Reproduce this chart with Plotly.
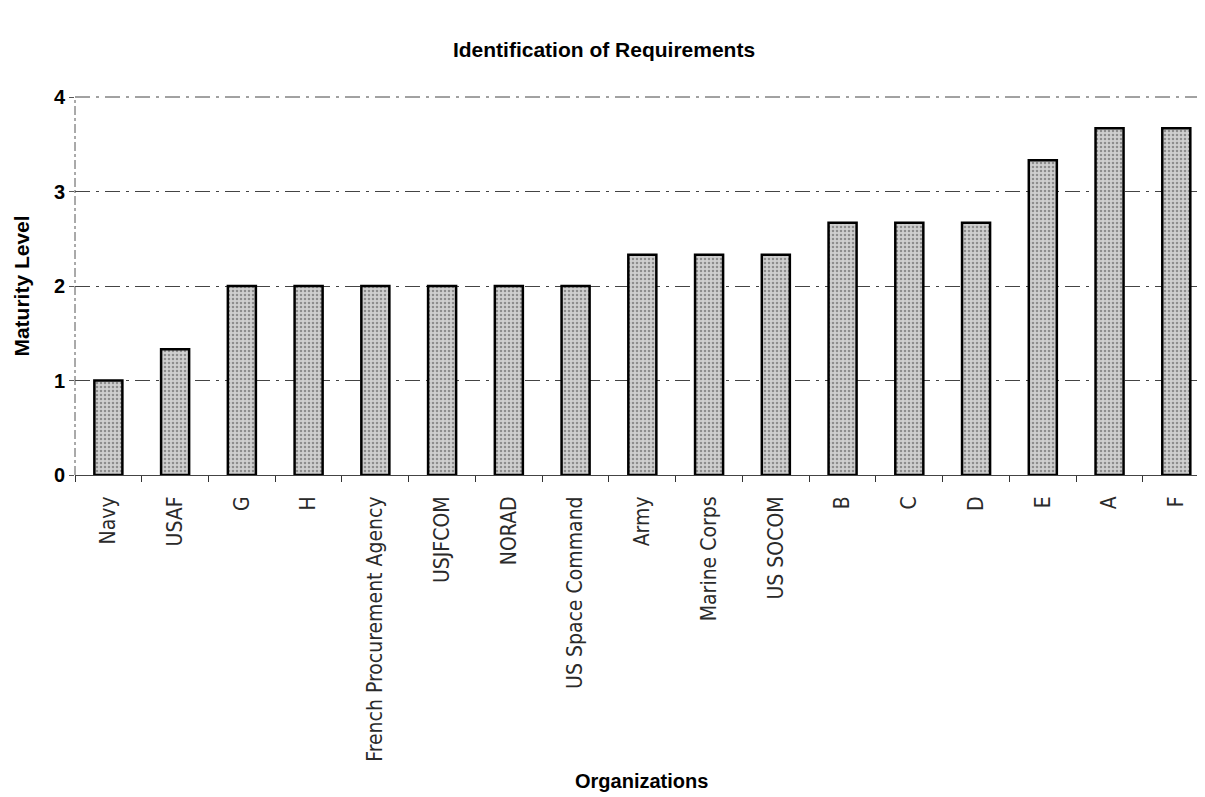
import plotly.graph_objects as go

organizations = ["Navy", "USAF", "G", "H", "French Procurement Agency", "USJFCOM", "NORAD",
                 "US Space Command", "Army", "Marine Corps", "US SOCOM", "B", "C", "D", "E", "A", "F"]
maturity = [1.0, 1.33, 2.0, 2.0, 2.0, 2.0, 2.0, 2.0, 2.33, 2.33, 2.33, 2.67, 2.67, 2.67, 3.33, 3.67, 3.67]

# page body has an 8px margin; size the figure so the plot lands where the reference has it
W, H = 1197, 789
L, T = 67, 89
PLOT_H = 378
B = H - T - PLOT_H

fig = go.Figure(go.Bar(
    x=organizations, y=maturity, width=0.42,
    marker=dict(color="#c8c8c8", line=dict(color="black", width=2.5),
                pattern=dict(shape=".", fgcolor="#4a4a4a", bgcolor="#cfcfcf", size=4, solidity=0.32)),
))

fig.update_layout(
    width=W, height=H,
    margin=dict(l=L, r=0, t=T, b=B),
    paper_bgcolor="white", plot_bgcolor="white",
    showlegend=False,
    title=dict(text="<b>Identification of Requirements</b>", x=(604 - 8) / W, xanchor="center",
               y=1 - (50 - 8) / H, yanchor="middle",
               font=dict(family="Liberation Sans, Arial", size=21, color="black")),
    font=dict(family="Liberation Sans, Arial", color="black"),
)
fig.update_xaxes(
    range=[-0.5, 16.43],
    tickangle=-90, tickson="boundaries", ticks="outside", ticklen=6, tickcolor="#333",
    ticklabelstandoff=12,
    tickfont=dict(family="Liberation Sans Narrow, DejaVu Sans Condensed, Arial Narrow", size=21, color="#2a2a2a"),
    showline=True, linecolor="#444", linewidth=1, showgrid=False,
    automargin=False,
)
fig.add_annotation(text="<b>Organizations</b>", xref="paper", yref="paper",
                   x=(641 - 75) / 1130, y=-(786 - (T + PLOT_H)) / PLOT_H,
                   yanchor="bottom", showarrow=False,
                   font=dict(size=20, family="Liberation Sans, Arial", color="black"))
fig.update_yaxes(
    range=[0, 4], dtick=1, ticks="outside", ticklen=5, tickcolor="#555",
    tickfont=dict(family="Liberation Sans, Arial", size=20, color="black", weight="bold"),
    showgrid=True, gridcolor="#444", gridwidth=1, griddash="longdashdot",
    showline=False,
    title=dict(text="<b>Maturity Level</b>", font=dict(size=21), standoff=18),
    zeroline=False, automargin=False,
)
# top gridline at 4 and dash-dot vertical axis line (styling, as in the reference)
fig.add_shape(type="line", xref="paper", yref="paper", x0=0, x1=1, y0=1, y1=1,
              line=dict(color="#444", width=1, dash="longdashdot"))
fig.add_shape(type="line", xref="paper", yref="paper", x0=0, x1=0, y0=0, y1=1,
              line=dict(color="#555", width=1, dash="dashdot"))
fig.write_html("out.html")
